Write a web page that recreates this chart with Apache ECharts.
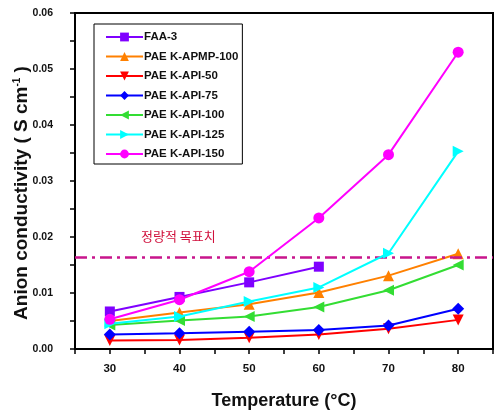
<!DOCTYPE html>
<html>
<head>
<meta charset="utf-8">
<script src="https://cdn.jsdelivr.net/npm/echarts@6/dist/echarts.min.js"></script>
<style>html,body{margin:0;padding:0;background:#fff}#c{width:498px;height:415px}</style>
</head>
<body>
<div id="c"></div>
<script>
var temperatures = [30, 40, 50, 60, 70, 80];
var faa3 = [0.0067, 0.0093, 0.0119, 0.0147];
var apmp100 = [0.0050, 0.0065, 0.0080, 0.0101, 0.0131, 0.0170];
var api50 = [0.0015, 0.0016, 0.0020, 0.0026, 0.0036, 0.0052];
var api75 = [0.0026, 0.0028, 0.0031, 0.0034, 0.0042, 0.0072];
var api100 = [0.0043, 0.0051, 0.0058, 0.0075, 0.0105, 0.0150];
var api125 = [0.0045, 0.0058, 0.0085, 0.0110, 0.0171, 0.0353];
var api150 = [0.0053, 0.0088, 0.0138, 0.0234, 0.0347, 0.0530];
var targetValue = 0.0163;
var targetLabel = '정량적 목표치';
var seriesNames = ['FAA-3', 'PAE K-APMP-100', 'PAE K-API-50', 'PAE K-API-75', 'PAE K-API-100', 'PAE K-API-125', 'PAE K-API-150'];

function pts(vals) { return vals.map(function (v, i) { return [temperatures[i], v]; }); }

var specs = [
  {data: faa3, color: '#7f00ff', symbol: 'rect', rot: 0, size: 10},
  {data: apmp100, color: '#ff8000', symbol: 'triangle', rot: 0, size: 11},
  {data: api50, color: '#ff0000', symbol: 'triangle', rot: 180, size: 11},
  {data: api75, color: '#0000ff', symbol: 'diamond', rot: 0, size: 12},
  {data: api100, color: '#33dd33', symbol: 'triangle', rot: 90, size: 11},
  {data: api125, color: '#00ffff', symbol: 'triangle', rot: -90, size: 11},
  {data: api150, color: '#ff00ff', symbol: 'circle', rot: 0, size: 11}
];

var series = specs.map(function (s, i) {
  return {
    name: seriesNames[i], type: 'line', data: pts(s.data),
    symbol: s.symbol, symbolRotate: s.rot, symbolSize: s.size,
    lineStyle: {color: s.color, width: 2}, itemStyle: {color: s.color},
    z: 3 + i
  };
});
series[0].markLine = {
  silent: true, symbol: 'none', precision: 5,
  lineStyle: {color: '#c8158c', width: 2.5, type: [12, 5, 3, 5]},
  label: {show: false},
  data: [{yAxis: targetValue}]
};

var chart = echarts.init(document.getElementById('c'));
chart.setOption({
  animation: false,
  grid: {left: 75, right: 5, top: 13, bottom: 66, show: true, borderColor: '#000', borderWidth: 2, containLabel: false, outerBoundsMode: 'none'},
  legend: {
    orient: 'vertical', left: 94, top: 24,
    padding: [7, 4, 4, 11], itemGap: 7.5, itemWidth: 37, itemHeight: 11,
    borderColor: '#000', borderWidth: 1, backgroundColor: '#fff',
    textStyle: {fontFamily: 'Liberation Sans', fontWeight: 'bold', fontSize: 11.5, color: '#111', padding: [0, 0, 0, -4]},
    data: seriesNames
  },
  xAxis: {
    type: 'value', min: 25, max: 85, interval: 5,
    axisLine: {lineStyle: {color: '#000', width: 2}},
    axisTick: {show: true, length: 5, lineStyle: {color: '#000', width: 1.5}},
    splitLine: {show: false},
    axisLabel: {
      margin: 14, color: '#111', fontFamily: 'Liberation Sans', fontWeight: 'bold', fontSize: 11.5,
      formatter: function (v) { return v % 10 === 0 ? String(v) : ''; }
    },
    name: 'Temperature (°C)', nameLocation: 'middle', nameGap: 43, nameMoveOverlap: false,
    nameTextStyle: {fontFamily: 'Liberation Sans', fontWeight: 'bold', fontSize: 18, color: '#111'}
  },
  yAxis: {
    type: 'value', min: 0, max: 0.06, interval: 0.005,
    axisLine: {show: true, lineStyle: {color: '#000', width: 2}},
    axisTick: {show: true, length: 5, lineStyle: {color: '#000', width: 1.5}},
    splitLine: {show: false},
    axisLabel: {
      margin: 22, color: '#111', fontFamily: 'Liberation Sans', fontWeight: 'bold', fontSize: 10.5,
      formatter: function (v) { var k = Math.round(v * 1000); return k % 10 === 0 ? v.toFixed(2) : ''; }
    },
    name: '{n|Anion conductivity ( S cm}{s|-1}{n| )}', nameLocation: 'middle', nameGap: 44, nameMoveOverlap: false,
    nameTextStyle: {
      padding: [0, 24, 0, 0],
      rich: {
        n: {fontFamily: 'Liberation Sans', fontWeight: 'bold', fontSize: 19, color: '#111'},
        s: {fontFamily: 'Liberation Sans', fontWeight: 'bold', fontSize: 10, color: '#111', verticalAlign: 'top', padding: [0, 0, 9, 0]}
      }
    }
  },
  graphic: [{
    type: 'text', left: 141, top: 230,
    style: {text: targetLabel, fill: '#d0103c', font: '13px "Noto Sans CJK KR"'}
  }],
  series: series
});
</script>
</body>
</html>
